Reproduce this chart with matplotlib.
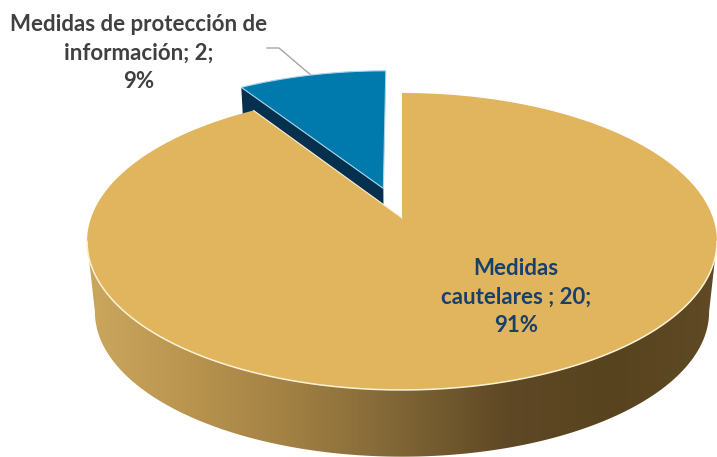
#!/usr/bin/env python3

import numpy as np
from matplotlib import pyplot as plt
from matplotlib.colors import LinearSegmentedColormap
from matplotlib.patches import Polygon

## chart data
categories = ["Medidas cautelares ", "Medidas de protección de información"]
counts = [20, 2]
percent_labels = ["91%", "9%"]

## colours
gold_top = "#E1B55E"
blue_top = "#0079AC"
blue_side = "#05304E"
rim_gold = "#FBF2D6"
rim_blue = "#A9D6E8"
side_shades = ["#CBA75E", "#B8944F", "#A07F43", "#7F6536", "#5E4825", "#58431F", "#5F4A25"]

## projection of the unit pie disc onto the page (in pixels)
cx, cy = 402.0, 218.0
semi_x, semi_y = 311.0, 144.8
persp = 0.158
depth_y = 71.0
bottom_scale = 0.975


def project(u, v, bottom=False):
    w = 1 + persp*v
    if bottom:
        return cx + bottom_scale*semi_x*u/w, cy + depth_y - bottom_scale*semi_y*v/w
    return cx + semi_x*u/w, cy - semi_y*v/w


def wedge_outline(start, stop, u0=0.0, v0=0.0, bottom=False):
    ## angles are clockwise from north, in radians
    t = np.linspace(start, stop, 200)
    u = np.concatenate(([u0], u0 + np.sin(t), [u0]))
    v = np.concatenate(([v0], v0 + np.cos(t), [v0]))
    return np.column_stack(project(u, v, bottom))


fig = plt.figure(figsize=(7.17, 4.57), dpi=100)
ax = fig.add_axes([0, 0, 1, 1])

fractions = np.array(counts)/sum(counts)
gold_stop = 2*np.pi*fractions[0]

## the small slice is pulled out along its bisector
explode = 0.22
mid = (gold_stop + 2*np.pi)/2
u_off, v_off = explode*np.sin(mid), explode*np.cos(mid)

blue_outline = wedge_outline(gold_stop, 2*np.pi, u_off, v_off)

## blue side wall, mostly hidden by the gold slice
cut_u = np.array([u_off + np.sin(gold_stop), u_off])
cut_v = np.array([v_off + np.cos(gold_stop), v_off])
top_x, top_y = project(cut_u, cut_v)
low_x, low_y = project(cut_u, cut_v, bottom=True)
ax.add_patch(Polygon(np.column_stack((np.r_[top_x, low_x[::-1]], np.r_[top_y, low_y[::-1]])),
                     closed=True, fc=blue_side, ec="none", zorder=1))
ax.add_patch(Polygon(blue_outline, closed=True, fc=blue_top, ec=rim_blue, lw=0.8, zorder=2))

## gold side wall with a left to right gradient
silhouette = np.arcsin(persp)
t = np.linspace(np.pi/2 + silhouette, 3*np.pi/2 - silhouette, 300)
fx, fy = project(np.sin(t), np.cos(t))
bx, by = project(np.sin(t), np.cos(t), bottom=True)
wall = Polygon(np.column_stack((np.r_[fx, bx[::-1]], np.r_[fy, by[::-1]])),
               closed=True, fc="none", ec="none", zorder=3)
ax.add_patch(wall)
cmap = LinearSegmentedColormap.from_list("side", side_shades)
im = ax.imshow(np.linspace(0, 1, 256).reshape(1, -1), cmap=cmap, aspect="auto",
               extent=(85, 717, 470, 230), zorder=3)
im.set_clip_path(wall)

## gold top face
ax.add_patch(Polygon(wedge_outline(0, gold_stop), closed=True, fc=gold_top, ec="none", zorder=4))
ax.plot(fx, fy, color=rim_gold, lw=1.1, zorder=5)
ax.plot(*wedge_outline(0, gold_stop)[[-2, -1]].T, color=rim_gold, lw=0.8, zorder=5)

## leader line of the outside label
ax.plot([267, 279, 312], [48, 48, 76], color="#A6A6A6", lw=1.0, zorder=1)

font = dict(family="Lato", fontweight="bold", ha="center", va="center", linespacing=1.42)
ax.text(139, 53, "Medidas de protección de\ninformación; %d;\n%s" % (counts[1], percent_labels[1]),
        fontsize=16, color="#404040", **font)
ax.text(516, 297, "Medidas\ncautelares ; %d;\n%s" % (counts[0], percent_labels[0]),
        fontsize=16, color="#17406D", zorder=6, **font)

ax.set_xlim(0, 717)
ax.set_ylim(457, 0)
ax.axis("off")

fig.savefig("out.png", dpi=100, facecolor="white")
